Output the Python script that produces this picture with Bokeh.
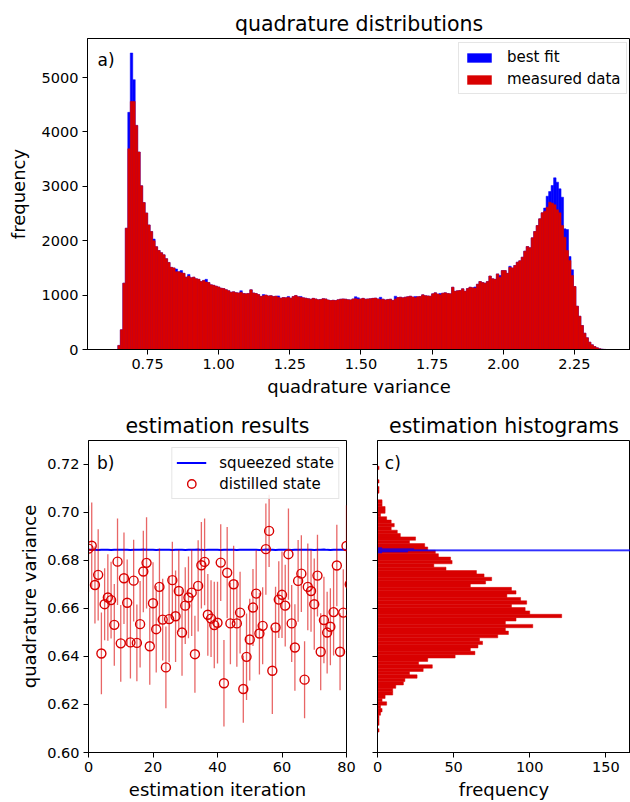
import numpy as np
from bokeh.plotting import figure
from bokeh.layouts import column, row
from bokeh.models import Range1d, FixedTicker, NumeralTickFormatter, Legend, LegendItem, Label
from bokeh.embed import file_html
from bokeh.resources import INLINE

FONT = "DejaVu Sans"
RED = "#d90000"
BLUE = "#0000ff"

# ---------------- data: panel a) quadrature distributions ----------------
hist_start = 0.6455
hist_width = 0.00875
measured = [
    75, 362, 1220, 2230, 3690, 4560, 4560, 4120, 3630, 3010,
    2700, 2510, 2290, 2170, 2000, 1890, 1820, 1780, 1740, 1670,
    1600, 1510, 1500, 1430, 1430, 1410, 1400, 1330, 1350, 1320,
    1330, 1300, 1290, 1250, 1270, 1240, 1230, 1189, 1180, 1164,
    1150, 1127, 1120, 1100, 1080, 1053, 1060, 1045, 1040, 1053,
    1030, 1023, 1030, 1097, 1040, 1030, 1010, 974, 990, 1000,
    985, 990, 975, 980, 960, 943, 955, 950, 960, 943,
    975, 993, 970, 960, 950, 943, 935, 925, 940, 930,
    915, 920, 935, 930, 910, 900, 905, 900, 915, 925,
    930, 925, 915, 912, 930, 935, 925, 930, 940, 925,
    930, 935, 940, 945, 930, 918, 925, 912, 920, 925,
    900, 930, 955, 962, 950, 962, 970, 980, 965, 950,
    970, 975, 1005, 990, 985, 980, 1023, 1042, 1020, 1005,
    1035, 1042, 1030, 1023, 1145, 1070, 1080, 1085, 1115, 1070,
    1120, 1145, 1135, 1130, 1200, 1250, 1230, 1220, 1250, 1350,
    1300, 1290, 1390, 1330, 1450, 1450, 1400, 1510, 1500, 1544,
    1605, 1630, 1697, 1808, 1893, 1870, 2053, 2169, 2279, 2402,
    2513, 2543, 2616, 2708, 2690, 2660, 2568, 2513, 2279, 2064,
    1820, 1636, 1360, 1158, 796, 612, 441, 300, 215, 135,
    86, 55, 31, 15, 6, 2,
]
best_fit = [
    75, 362, 1220, 2230, 4360, 5450, 4960, 4120, 3630, 3010,
    2700, 2510, 2290, 2170, 2030, 1890, 1820, 1780, 1740, 1670,
    1600, 1510, 1500, 1480, 1430, 1450, 1400, 1330, 1380, 1320,
    1330, 1300, 1290, 1250, 1270, 1290, 1230, 1189, 1180, 1164,
    1150, 1127, 1120, 1100, 1080, 1053, 1060, 1045, 1040, 1080,
    1030, 1023, 1030, 1097, 1040, 1030, 1010, 974, 1010, 1000,
    985, 990, 975, 980, 985, 943, 955, 950, 975, 943,
    975, 993, 970, 975, 950, 943, 935, 925, 940, 930,
    915, 920, 935, 930, 910, 900, 905, 900, 915, 925,
    930, 925, 915, 912, 930, 970, 950, 930, 940, 925,
    930, 935, 940, 945, 930, 960, 925, 912, 920, 925,
    900, 980, 955, 962, 950, 962, 970, 980, 965, 975,
    970, 975, 1005, 990, 985, 980, 1023, 1042, 1020, 1030,
    1035, 1042, 1030, 1023, 1145, 1070, 1080, 1085, 1115, 1070,
    1120, 1145, 1135, 1150, 1200, 1250, 1230, 1220, 1250, 1350,
    1300, 1290, 1390, 1360, 1450, 1450, 1400, 1530, 1500, 1544,
    1605, 1630, 1697, 1808, 1893, 1870, 2053, 2169, 2279, 2402,
    2513, 2600, 2818, 2904, 3015, 3156, 3076, 2954, 2800, 2218,
    2206, 1710, 1465, 1158, 796, 612, 441, 300, 215, 135,
    86, 55, 31, 15, 6, 2,
]
top_xticks = [0.75, 1.00, 1.25, 1.50, 1.75, 2.00, 2.25]
top_yticks = [0, 1000, 2000, 3000, 4000, 5000]

# ---------------- data: panel b) estimation results ----------------
iterations = list(range(82))
distilled = [
    0.6848, 0.6860, 0.6697, 0.6739, 0.6412, 0.6617, 0.6645, 0.6634, 0.6531, 0.6794,
    0.6454, 0.6725, 0.6623, 0.6458, 0.6715, 0.6456, 0.6534, 0.6753, 0.6789, 0.6442,
    0.6621, 0.6513, 0.6689, 0.6553, 0.6354, 0.6555, 0.6717, 0.6567, 0.6672, 0.6499,
    0.6611, 0.6645, 0.6665, 0.6409, 0.6693, 0.6779, 0.6793, 0.6573, 0.6557, 0.6530,
    0.6540, 0.6790, 0.6288, 0.6748, 0.6537, 0.6700, 0.6537, 0.6582, 0.6264, 0.6398,
    0.6470, 0.6603, 0.6661, 0.6495, 0.6527, 0.6846, 0.6922, 0.6340, 0.6520, 0.6636,
    0.6656, 0.6611, 0.6825, 0.6537, 0.6437, 0.6714, 0.6744, 0.6303, 0.6689, 0.6672,
    0.6617, 0.6736, 0.6419, 0.6551, 0.6499, 0.6523, 0.6584, 0.6778, 0.6419, 0.6582,
    0.6859, 0.6700,
]
distilled_err = [
    0.018, 0.018, 0.016, 0.019, 0.017, 0.015, 0.018, 0.016, 0.017, 0.018,
    0.016, 0.019, 0.018, 0.015, 0.017, 0.016, 0.018, 0.017, 0.019, 0.016,
    0.017, 0.018, 0.016, 0.017, 0.017, 0.018, 0.016, 0.019, 0.017, 0.018,
    0.016, 0.017, 0.018, 0.016, 0.019, 0.018, 0.018, 0.017, 0.016, 0.018,
    0.017, 0.016, 0.018, 0.019, 0.017, 0.016, 0.018, 0.017, 0.014, 0.018,
    0.017, 0.016, 0.018, 0.017, 0.016, 0.019, 0.015, 0.018, 0.017, 0.016,
    0.018, 0.017, 0.019, 0.016, 0.018, 0.017, 0.016, 0.016, 0.018, 0.017,
    0.019, 0.017, 0.016, 0.018, 0.017, 0.016, 0.018, 0.017, 0.016, 0.018,
    0.017, 0.017,
]
squeezed = [
    0.6843, 0.6844, 0.6843, 0.6842, 0.6843, 0.6844, 0.6843, 0.6842, 0.6843, 0.6844,
    0.6844, 0.6843, 0.6843, 0.6842, 0.6843, 0.6843, 0.6844, 0.6845, 0.6844, 0.6843,
    0.6843, 0.6842, 0.6843, 0.6843, 0.6844, 0.6843, 0.6842, 0.6843, 0.6844, 0.6843,
    0.6842, 0.6843, 0.6843, 0.6844, 0.6845, 0.6843, 0.6842, 0.6843, 0.6844, 0.6843,
    0.6843, 0.6842, 0.6843, 0.6844, 0.6843, 0.6843, 0.6842, 0.6843, 0.6844, 0.6843,
    0.6843, 0.6844, 0.6843, 0.6842, 0.6843, 0.6845, 0.6844, 0.6843, 0.6842, 0.6843,
    0.6844, 0.6843, 0.6843, 0.6842, 0.6843, 0.6844, 0.6843, 0.6843, 0.6844, 0.6843,
    0.6842, 0.6843, 0.6844, 0.6845, 0.6843, 0.6842, 0.6843, 0.6843, 0.6844, 0.6843,
    0.6842,
]
bl_xticks = [0, 20, 40, 60, 80]
bl_yticks = [0.60, 0.62, 0.64, 0.66, 0.68, 0.70, 0.72]

# ---------------- data: panel c) estimation histograms ----------------
est_start = 0.6085
est_width = 0.0014
est_counts = [
    1, 0, 1, 1, 1, 2, 3, 2, 6, 3,
    5, 10, 10, 12, 17, 18, 26, 21, 30, 36,
    27, 33, 51, 64, 61, 66, 69, 67, 79, 86,
    84, 102, 84, 91, 121, 100, 97, 88, 98, 94,
    85, 91, 88, 61, 71, 75, 70, 65, 45, 37,
    49, 48, 40, 38, 33, 31, 21, 25, 15, 13,
    9, 11, 9, 6, 2, 5, 5, 3, 3, 0,
    0, 1, 1, 0, 1, 0, 0, 0, 1,
]
sq_start = 0.6829
sq_width = 0.0004
sq_counts = [3, 20, 700, 700, 24, 3]
br_xticks = [0, 50, 100, 150]


def style(p):
    p.xgrid.visible = False
    p.ygrid.visible = False
    p.outline_line_color = "black"
    p.outline_line_width = 1
    p.outline_line_alpha = 1
    p.background_fill_color = "white"
    p.border_fill_color = "white"
    p.title.text_font = FONT
    p.title.text_font_size = "20.5px"
    p.title.text_font_style = "normal"
    p.title.text_color = "black"
    p.title.align = "center"
    p.title.standoff = 6
    for ax in list(p.xaxis) + list(p.yaxis):
        ax.axis_line_color = "black"
        ax.major_tick_line_color = "black"
        ax.minor_tick_line_color = None
        ax.major_tick_out = 5
        ax.major_tick_in = 0
        ax.major_label_text_font = FONT
        ax.major_label_text_font_size = "14.5px"
        ax.major_label_text_color = "black"
        ax.major_label_standoff = 4
        ax.axis_label_text_font = FONT
        ax.axis_label_text_font_size = "18px"
        ax.axis_label_text_font_style = "normal"
        ax.axis_label_text_color = "black"
        ax.axis_label_standoff = 4


def panel_label(p, x, y, text):
    p.add_layout(Label(x=x, y=y, text=text, text_baseline="top", text_color="black",
                       text_font=FONT, text_font_size="17px"))


# ---------------- panel a ----------------
p1 = figure(width=630, height=400, x_range=Range1d(0.539, 2.447), y_range=Range1d(0, 5717),
            output_backend="svg", toolbar_location=None,
            min_border_left=87, min_border_right=0, min_border_top=38, min_border_bottom=51,
            title="quadrature distributions")
edges = hist_start + hist_width * np.arange(len(measured) + 1)
r_fit = p1.quad(left=edges[:-1], right=edges[1:], bottom=0, top=best_fit,
                fill_color=BLUE, line_color=BLUE, line_width=0.5)
r_meas = p1.quad(left=edges[:-1], right=edges[1:], bottom=0, top=measured,
                 fill_color=RED, line_color=RED, line_width=0.5)
style(p1)
p1.xaxis.ticker = FixedTicker(ticks=top_xticks)
p1.xaxis.formatter = NumeralTickFormatter(format="0.00")
p1.yaxis.ticker = FixedTicker(ticks=top_yticks)
p1.xaxis.axis_label = "quadrature variance"
p1.yaxis.axis_label = "frequency"
p1.yaxis.axis_label_standoff = 10
leg1 = Legend(items=[LegendItem(label="best fit", renderers=[r_fit]),
                     LegendItem(label="measured data", renderers=[r_meas])],
              location=(371, 255), label_text_font=FONT, label_text_font_size="15px",
              label_text_color="black",
              glyph_width=30, glyph_height=11, label_height=18, label_standoff=13,
              spacing=4, padding=5, margin=0, border_line_color="#cccccc",
              background_fill_alpha=0.85)
p1.add_layout(leg1)
panel_label(p1, 0.574, 5500, "a)")

# ---------------- panel b ----------------
p2 = figure(width=362, height=402, x_range=Range1d(0, 80), y_range=Range1d(0.60, 0.7298),
            output_backend="svg", toolbar_location=None,
            min_border_left=88, min_border_right=16, min_border_top=40, min_border_bottom=50,
            title="estimation results")
lo = [v - e for v, e in zip(distilled, distilled_err)]
hi = [v + e for v, e in zip(distilled, distilled_err)]
r_line = p2.line(iterations[:len(squeezed)], squeezed, line_color=BLUE, line_width=2)
p2.segment(x0=iterations, y0=lo, x1=iterations, y1=hi, line_color=RED, line_alpha=0.6, line_width=1.3)
r_circ = p2.scatter(iterations, distilled, marker="circle", size=9, fill_color=None,
                    line_color=RED, line_width=1.4)
style(p2)
p2.xaxis.ticker = FixedTicker(ticks=bl_xticks)
p2.yaxis.ticker = FixedTicker(ticks=bl_yticks)
p2.yaxis.formatter = NumeralTickFormatter(format="0.00")
p2.xaxis.axis_label = "estimation iteration"
p2.yaxis.axis_label = "quadrature variance"
leg2 = Legend(items=[LegendItem(label="squeezed state", renderers=[r_line]),
                     LegendItem(label="distilled state", renderers=[r_circ])],
              location="top_right", label_text_font=FONT, label_text_font_size="15px",
              label_text_color="black",
              glyph_width=30, glyph_height=21, label_height=18, label_standoff=13,
              spacing=0, padding=4, margin=7, border_line_color="#cccccc",
              background_fill_alpha=0.85)
p2.add_layout(leg2)
panel_label(p2, 2.6, 0.7245, "b)")

# ---------------- panel c ----------------
p3 = figure(width=268, height=402, x_range=Range1d(0, 166.2), y_range=p2.y_range,
            output_backend="svg", toolbar_location=None,
            min_border_left=15, min_border_right=0, min_border_top=40, min_border_bottom=50,
            title="estimation histograms")
est_edges = est_start + est_width * np.arange(len(est_counts) + 1)
p3.quad(left=0, right=est_counts, bottom=est_edges[:-1], top=est_edges[1:],
        fill_color=RED, line_color=RED, line_width=0.5)
sq_edges = sq_start + sq_width * np.arange(len(sq_counts) + 1)
p3.quad(left=0, right=sq_counts, bottom=sq_edges[:-1], top=sq_edges[1:],
        fill_color=BLUE, line_color=None)
style(p3)
p3.xaxis.ticker = FixedTicker(ticks=br_xticks)
p3.yaxis.ticker = FixedTicker(ticks=bl_yticks)
p3.yaxis.major_label_overrides = {t: "" for t in bl_yticks}
p3.yaxis.major_label_standoff = 0
p3.xaxis.axis_label = "frequency"
panel_label(p3, 4.8, 0.7245, "c)")

layout = column(p1, row(p2, p3))
open("out.html", "w").write(file_html(layout, INLINE))
